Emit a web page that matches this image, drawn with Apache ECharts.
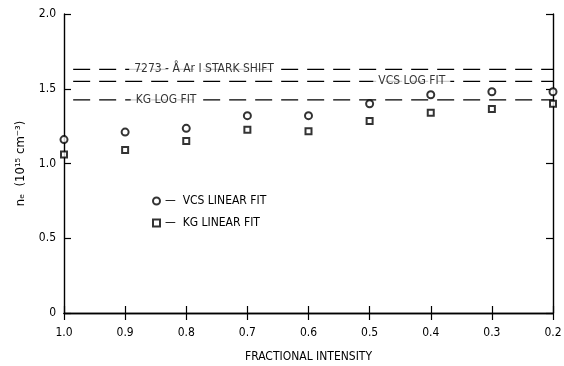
<!DOCTYPE html>
<html><head><meta charset="utf-8">
<script src="https://cdn.jsdelivr.net/npm/echarts@6/dist/echarts.min.js"></script>
<style>html,body{margin:0;padding:0;background:#fff}#c{width:564px;height:366px}</style>
</head><body><div id="c"></div>
<script>
const fractions = [1.0, 0.9, 0.8, 0.7, 0.6, 0.5, 0.4, 0.3, 0.2];
const vcsLinear = [1.16, 1.21, 1.235, 1.32, 1.32, 1.40, 1.46, 1.48, 1.48];
const kgLinear  = [1.06, 1.09, 1.15, 1.225, 1.215, 1.285, 1.34, 1.365, 1.40];
const refLines = [
  {name: '7273 - Å Ar I STARK SHIFT', y: 1.63, labelX: 0.771},
  {name: 'VCS LOG FIT', y: 1.55, labelX: 0.431},
  {name: 'KG LOG FIT', y: 1.425, labelX: 0.833}
];
const lineStart = 0.985, lineEnd = 0.2;
const yTicks = ['0', '0.5', '1.0', '1.5', '2.0'];

const FONT = '"Liberation Sans Narrow", "DejaVu Sans Condensed", sans-serif';
const INK = '#000';
const chart = echarts.init(document.getElementById('c'), null, {renderer: 'canvas'});

const series = [];
refLines.forEach(r => {
  series.push({
    type: 'line', silent: true, symbol: 'none', z: 2,
    data: [[lineStart, r.y], [lineEnd, r.y]],
    lineStyle: {color: INK, width: 1.3, type: [17, 9]}
  });
  series.push({
    type: 'scatter', silent: true, symbolSize: 0, z: 5, clip: false,
    data: [[r.labelX, r.y]],
    label: {show: true, position: 'inside', formatter: r.name, color: INK,
      fontFamily: FONT, fontSize: 12, backgroundColor: '#fff', padding: [1, 5]}
  });
});
series.push({
  name: 'VCS LINEAR FIT', type: 'scatter', clip: false, z: 6,
  symbol: 'emptyCircle', symbolSize: 7,
  itemStyle: {color: INK, borderColor: INK, borderWidth: 1.8},
  data: fractions.map((f, i) => [f, vcsLinear[i]])
});
series.push({
  name: 'KG LINEAR FIT', type: 'scatter', clip: false, z: 6,
  symbol: 'emptyRect', symbolSize: 6,
  itemStyle: {color: INK, borderColor: INK, borderWidth: 1.8},
  data: fractions.map((f, i) => [f, kgLinear[i]])
});

const axisBase = {
  axisLine: {show: true, lineStyle: {color: INK, width: 1.4}},
  axisTick: {show: true, inside: true, length: 7, lineStyle: {color: INK, width: 1.2}},
  splitLine: {show: false}
};

chart.setOption({
  animation: false,
  backgroundColor: '#fff',
  grid: {left: 64, right: 11, top: 14, bottom: 53, containLabel: false, outerBoundsMode: 'none'},
  legend: {
    data: [
      {name: 'VCS LINEAR FIT', icon: 'emptyCircle'},
      {name: 'KG LINEAR FIT', icon: 'emptyRect'}
    ],
    orient: 'vertical', left: 147, top: 190, itemGap: 10,
    itemWidth: 7, itemHeight: 7,
    formatter: n => '—  ' + n,
    textStyle: {color: INK, fontFamily: FONT, fontSize: 12}
  },
  xAxis: [
    Object.assign({
      type: 'value', min: 0.2, max: 1.0, interval: 0.1, inverse: true, position: 'bottom',
      name: 'FRACTIONAL INTENSITY', nameLocation: 'middle', nameGap: 38,
      nameTextStyle: {color: INK, fontFamily: FONT, fontSize: 12},
      axisLabel: {color: INK, fontFamily: FONT, fontSize: 12, margin: 14,
        formatter: v => v.toFixed(1)}
    }, axisBase),
    Object.assign({
      type: 'value', min: 0.2, max: 1.0, interval: 0.1, inverse: true, position: 'top',
      axisLabel: {show: false}
    }, axisBase)
  ],
  yAxis: [
    Object.assign({
      type: 'value', min: 0, max: 2, interval: 0.5, position: 'left',
      name: 'nₑ  (10¹⁵ cm⁻³)', nameLocation: 'middle', nameGap: 37, nameRotate: 90,
      nameTextStyle: {color: INK, fontFamily: FONT, fontSize: 13},
      axisLabel: {color: INK, fontFamily: FONT, fontSize: 12, margin: 8,
        formatter: v => yTicks[Math.round(v / 0.5)]}
    }, axisBase),
    Object.assign({
      type: 'value', min: 0, max: 2, interval: 0.5, position: 'right',
      axisLabel: {show: false}
    }, axisBase)
  ],
  series: series
});
</script></body></html>
